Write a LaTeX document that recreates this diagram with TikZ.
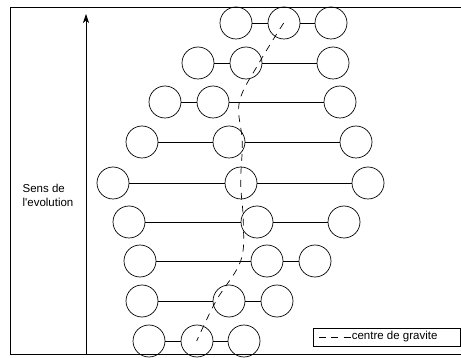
\documentclass[tikz,border=0pt]{standalone}
\usepackage{fontspec}
\setmainfont{Liberation Sans}
\usetikzlibrary{positioning, arrows.meta}

\tikzset{
  mass/.style={draw, circle, minimum size=32pt, inner sep=0pt, line width=0.7pt},
  rod/.style={line width=0.7pt},
  cgline/.style={line width=0.7pt, dash pattern=on 7pt off 6pt},
  legendbox/.style={draw, line width=0.8pt, minimum width=147pt, minimum height=18pt, inner sep=0pt},
}

\begin{document}
\begin{tikzpicture}[x=1pt, y=-1pt, font=\fontsize{11.5}{14}\selectfont]
  \useasboundingbox (0,0) rectangle (461,358);
  % frame (open on the right)
  \draw[line width=0.8pt] (461,7) -- (10,7) -- (10,354) -- (461,354);

  % evolution axis
  \coordinate (axisfoot) at (86,354);
  \coordinate (axistop) at (86,14);
  \draw[line width=0.7pt, -{Stealth[length=9pt, width=6pt, inset=2.5pt]}] (axisfoot) -- (axistop);
  \node[align=left] (evol) at (48,195) {Sens de\\l\textquotesingle evolution};

  % rows of masses: row / y / left / middle / right
  \foreach \r/\y/\xa/\xb/\xc in {1/23/236/284/331, 2/63/198/246/333,
      3/102/165/213/340, 4/142/142/229/356, 5/183/113/241/368,
      6/222/129/257/344, 7/261/140/267/315, 8/301/142/229/277,
      9/341/149/197/244}{
    \node[mass] (m\r-a) at (\xa,\y) {};
    \node[mass] (m\r-b) at (\xb,\y) {};
    \node[mass] (m\r-c) at (\xc,\y) {};
    \draw[rod] (m\r-a) -- (m\r-b);
    \draw[rod] (m\r-b) -- (m\r-c);
    % centre of gravity of the row
    \pgfmathsetmacro{\xg}{(\xa+\xb+\xc)/3}
    \coordinate (cg\r) at (\xg,\y);
  }
  \draw[cgline] plot[smooth, tension=0.6] coordinates
    {(cg1) (cg2) (cg3) (cg4) (cg5) (cg6) (cg7) (cg8) (cg9)};

  % legend
  \node[legendbox] (legend) at (386.5,337) {};
  \coordinate (dashstart) at ([xshift=6pt]legend.west);
  \coordinate (dashend) at ([xshift=38pt]legend.west);
  \draw[cgline, dash pattern=on 7pt off 5.5pt] (dashstart) -- (dashend);
  \node[anchor=west, inner sep=0pt] (legtext) at ([xshift=1pt]dashend) {centre de gravite};
\end{tikzpicture}
\end{document}
